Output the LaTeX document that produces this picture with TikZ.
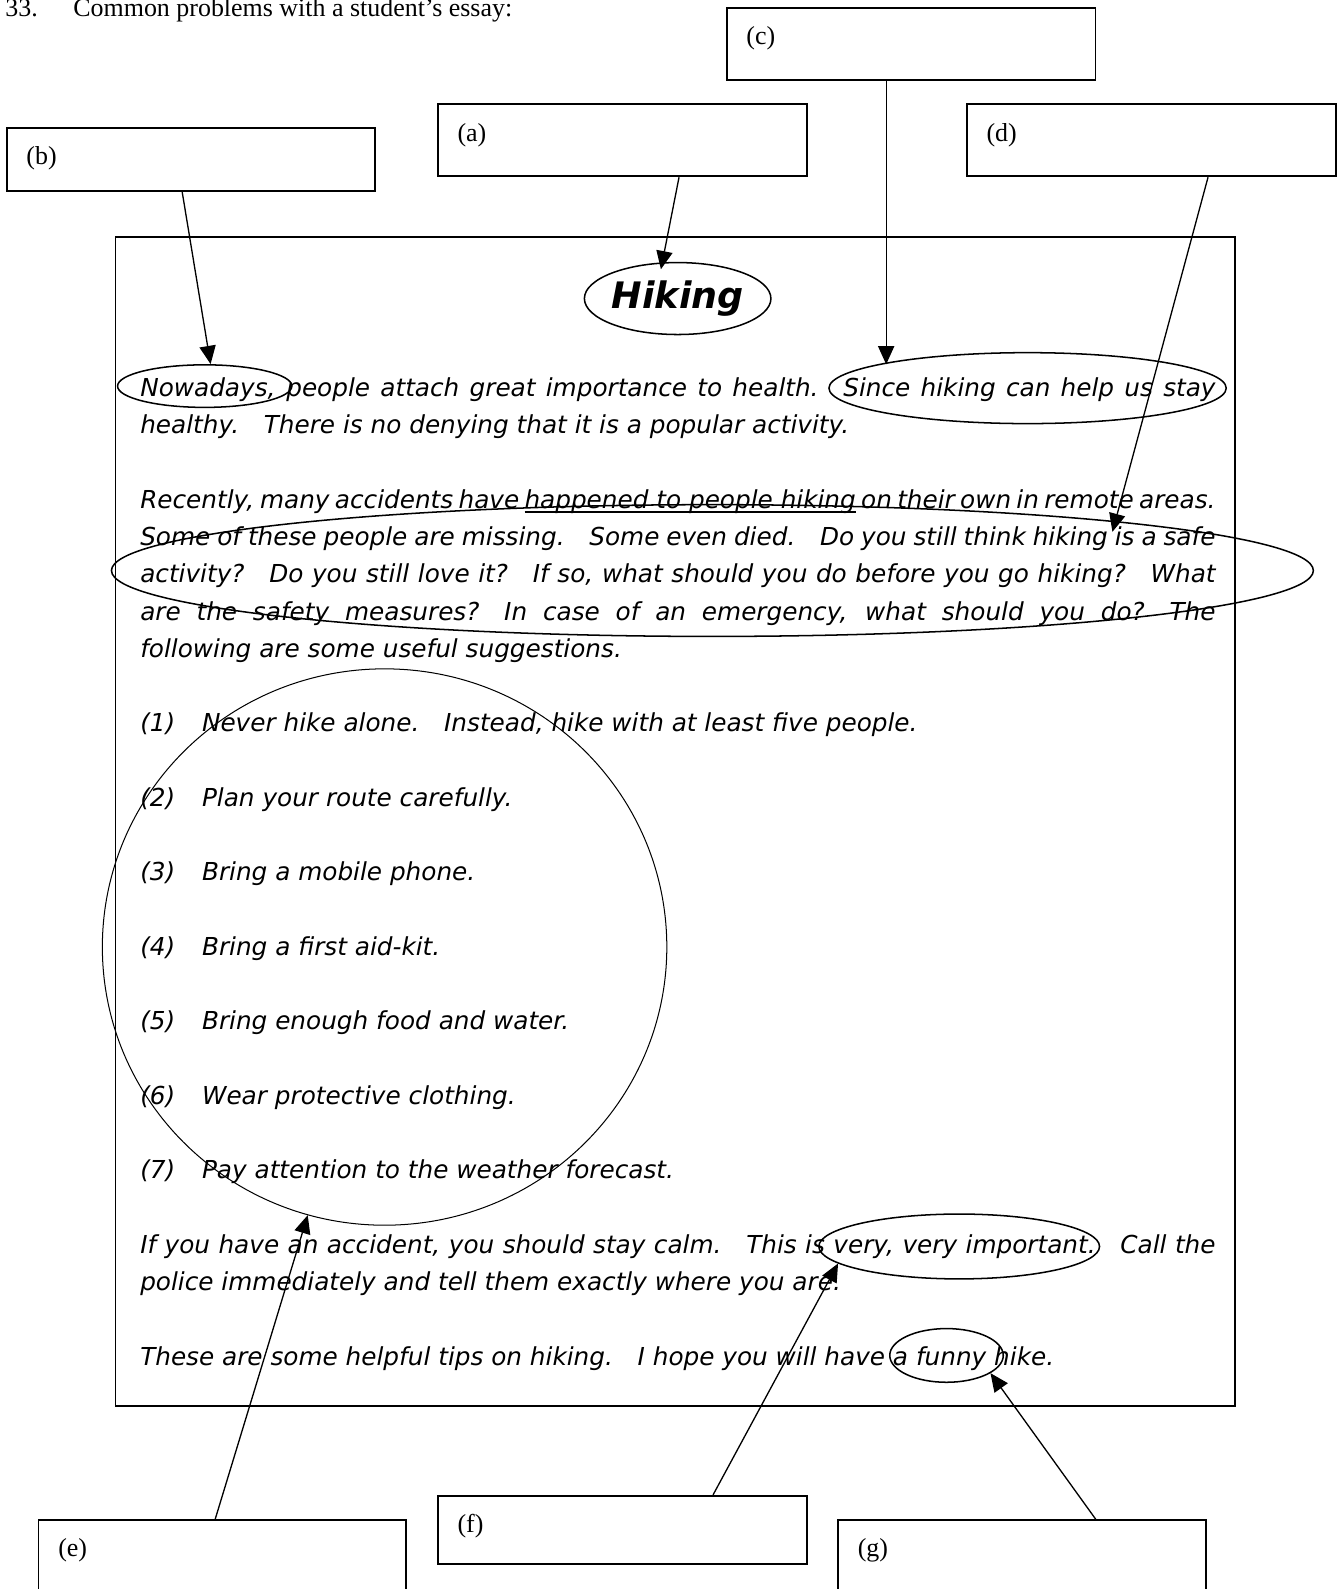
\documentclass[tikz,border=0pt]{standalone}
\usepackage{fontspec}
\setmainfont{Liberation Serif}
\newfontfamily\essayfont{DejaVu Sans}
\usetikzlibrary{shapes.geometric,arrows.meta}
\newcommand{\gapp}{\hspace{1em}}
\newcommand{\undl}[1]{\setbox0\hbox{#1}\rlap{\rule[-2pt]{\wd0}{0.6pt}}\box0\relax}
\newlength{\linew}\setlength{\linew}{530.5pt}
\newcommand{\fullline}[1]{\makebox[\linew][s]{#1}}

\begin{document}
\begin{tikzpicture}[x=0.5pt, y=-0.5pt,
    ans/.style={draw, line width=0.9pt, minimum width=182pt, minimum height=35.5pt, inner sep=0pt},
    tag/.style={anchor=west, inner sep=0pt, font=\fontsize{12.8}{15}\selectfont},
    ring/.style={draw, ellipse, line width=0.75pt, inner sep=0pt},
    txt/.style={anchor=base west, inner sep=0pt, font=\essayfont\itshape\fontsize{12.2}{14}\selectfont},
    pointer/.style={-{Triangle[length=9pt,width=8pt]}, line width=0.65pt}]
    \useasboundingbox (0,0) rectangle (1325,1568);
    \clip (0,0) rectangle (1325,1568);
    \node[tag, anchor=base west] (num) at (5,16) {33.};
    \node[tag, anchor=base west] (title) at (72,16) {Common problems with a student’s essay:};
    % the essay
    \draw[line width=0.9pt] (114,234) rectangle (1219,1387);
    \node[ring, minimum width=85pt, minimum height=35.5pt, font=\essayfont\bfseries\itshape\fontsize{18}{22}\selectfont] (hike) at (668.7,294.6) {Hiking};
    \node[txt] (p1) at (138,391.5) {\fullline{Nowadays, people attach great importance to health.\gapp Since hiking can help us stay}};
    \node[txt] (p2) at (138,428.25) {healthy.\gapp There is no denying that it is a popular activity.};
    \node[txt] (p3) at (138,501.75) {\fullline{Recently, many accidents have \undl{happened to people hiking} on their own in remote areas.}};
    \node[txt] (p4) at (138,538.5) {\fullline{Some of these people are missing.\gapp Some even died.\gapp Do you still think hiking is a safe}};
    \node[txt] (p5) at (138,575.25) {\fullline{activity?\gapp Do you still love it?\gapp If so, what should you do before you go hiking?\gapp What}};
    \node[txt] (p6) at (138,612) {\fullline{are the safety measures?\gapp In case of an emergency, what should you do?\gapp The}};
    \node[txt] (p7) at (138,648.75) {following are some useful suggestions.};
    \foreach \t [count=\i] in {{Never hike alone.\gapp Instead, hike with at least five people.},
        Plan your route carefully., Bring a mobile phone., Bring a first aid-kit.,
        Bring enough food and water., Wear protective clothing., Pay attention to the weather forecast.}
      \node[txt] (item\i) at (138,{391.5+36.75*(2*\i+7)}) {\makebox[30.5pt][l]{(\i)}\t};
    \node[txt] (p8) at (138,1236.75) {\fullline{If you have an accident, you should stay calm.\gapp This is very, very important.\gapp Call the}};
    \node[txt] (p9) at (138,1273.5) {police immediately and tell them exactly where you are.};
    \node[txt] (p10) at (138,1347) {These are some helpful tips on hiking.\gapp I hope you will have a funny hike.};
    % rings round the faults
    \node[ring, minimum width=86pt, minimum height=21pt] (nowa) at (202,381) {};
    \node[ring, minimum width=196pt, minimum height=35pt] (since) at (1014,383) {};
    \node[ring, minimum width=593pt, minimum height=65pt] (para) at (703,563) {};
    \node[ring, line width=0.5pt, minimum width=278.5pt, minimum height=274.5pt] (tips) at (379.5,934.5) {};
    \node[ring, minimum width=138.5pt, minimum height=32pt] (very) at (946.5,1230) {};
    \node[ring, minimum width=56pt, minimum height=26.5pt] (funny) at (934,1337.5) {};
    % answer boxes
    \node[ans] (a) at (614,138.5) {};
    \node[ans, minimum width=181.7pt, minimum height=31pt] (b) at (188.3,157.35) {};
    \node[ans] (c) at (899,43.5) {};
    \node[ans] (d) at (1136,138.5) {};
    \node[ans, minimum width=181.5pt, minimum height=50pt] (e) at (219.5,1550) {};
    \node[ans, minimum height=33.5pt] (f) at (614,1509.5) {};
    \node[ans, minimum width=181.5pt, minimum height=50pt] (g) at (1008.5,1550) {};
    \foreach \n in {a,b,c,d,e,f,g}
      \node[tag] (l\n) at ([shift={(20,31)}]\n.north west) {(\n)};
    \draw[pointer] (b.-105) -- (nowa.75);
    \draw[pointer, shorten >=-3.5pt] (a.-33.3) -- (hike.113);
    \draw[pointer] (c.-124) -- (c.-124 |- since.171);
    \draw[pointer, shorten >=-5.5pt] (d.-33.3) -- (para.7);
    \draw[pointer] (e.98.5) -- (tips.-106.4);
    \draw[pointer] (f.21.3) -- (very.188);
    \draw[pointer] (g.35) -- (funny.-22.5);
\end{tikzpicture}
\end{document}
